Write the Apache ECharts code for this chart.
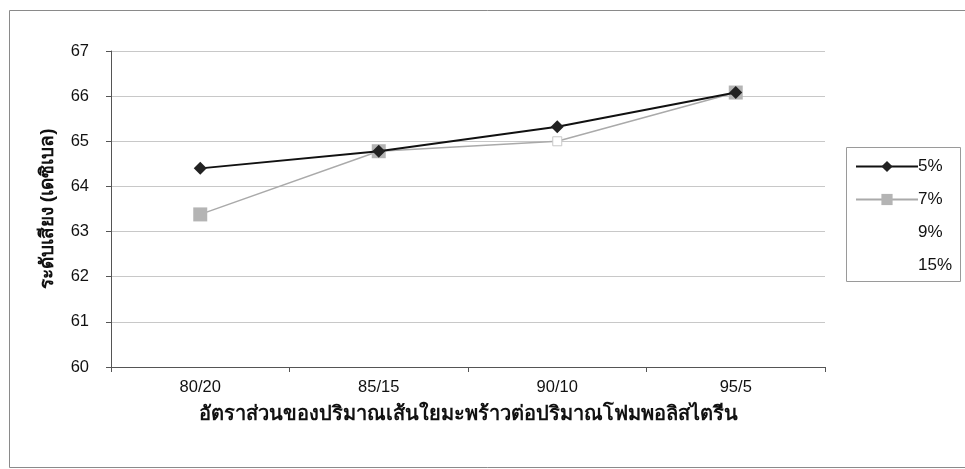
<!DOCTYPE html>
<html>
<head>
<meta charset="utf-8">
<script src="https://cdn.jsdelivr.net/npm/echarts@6/dist/echarts.min.js"></script>
<style>
  html, body { margin: 0; padding: 0; background: #fff; }
  #chart { width: 965px; height: 469px; }
</style>
</head>
<body>
<div id="chart"></div>
<script>
// Fibre / foam mixing ratios on the x axis
const categories = ['80/20', '85/15', '90/10', '95/5'];
// Sound level (dB) for each additive percentage
const series5 = [64.4, 64.78, 65.32, 66.08];
const series7 = [63.38, 64.78, 65.0, 66.08];
const series9 = [];
const series15 = [];
const seriesNames = ['5%', '7%', '9%', '15%'];

const yTitle = 'ระดับเสียง (เดซิเบล)';
const xTitle = 'อัตราส่วนของปริมาณเส้นใยมะพร้าวต่อปริมาณโฟมพอลิสไตรีน';

const FONT = "'Liberation Sans', Arial, 'Noto Sans', sans-serif";

const chart = echarts.init(document.getElementById('chart'), null, { renderer: 'canvas' });

chart.setOption({
  animation: false,
  backgroundColor: '#fff',
  textStyle: { fontFamily: FONT },
  graphic: [
    {
      type: 'rect',
      shape: { x: 9.5, y: 10.5, width: 970, height: 457 },
      style: { fill: 'none', stroke: '#8a8a8a', lineWidth: 1 },
      silent: true
    },
    {
      type: 'rect',
      shape: { x: 846.5, y: 147.5, width: 114, height: 134 },
      style: { fill: 'none', stroke: '#9a9a9a', lineWidth: 1 },
      silent: true
    }
  ],
  grid: { left: 111, top: 51, width: 714, height: 316, containLabel: false },
  legend: {
    orient: 'vertical',
    left: 850,
    top: 153,
    itemWidth: 62,
    itemHeight: 14,
    itemGap: 16,
    selectedMode: false,
    textStyle: { fontSize: 17, color: '#111', fontFamily: FONT, padding: [0, 0, 0, -5] },
    data: seriesNames
  },
  xAxis: {
    type: 'category',
    data: categories,
    boundaryGap: true,
    name: xTitle,
    nameLocation: 'middle',
    nameGap: 37,
    nameTextStyle: { fontSize: 20, fontWeight: 'bold', color: '#111', fontFamily: FONT },
    axisLine: { lineStyle: { color: '#555', width: 1 } },
    axisTick: { show: true, alignWithLabel: false, length: 5, lineStyle: { color: '#555' } },
    axisLabel: { fontSize: 16.5, color: '#111', margin: 12 },
    splitLine: { show: false }
  },
  yAxis: {
    type: 'value',
    min: 60,
    max: 67,
    interval: 1,
    name: yTitle,
    nameLocation: 'middle',
    nameGap: 54,
    nameRotate: 90,
    nameTextStyle: { fontSize: 19, fontWeight: 'bold', color: '#111', fontFamily: FONT },
    axisLine: { show: true, lineStyle: { color: '#555', width: 1 } },
    axisTick: { show: true, length: 5, lineStyle: { color: '#555' } },
    axisLabel: { fontSize: 16.5, color: '#111', margin: 22 },
    splitLine: { show: true, lineStyle: { color: '#c8c8c8', width: 1 } }
  },
  series: [
    {
      name: '5%',
      type: 'line',
      data: series5,
      symbol: 'diamond',
      symbolSize: 13,
      lineStyle: { color: '#111', width: 2 },
      itemStyle: { color: '#222' },
      z: 3
    },
    {
      name: '7%',
      type: 'line',
      data: series7.map((v, i) => i === 2
        ? { value: v, symbolSize: 9, itemStyle: { color: '#ffffff', borderColor: '#c8c8c8', borderWidth: 1 } }
        : v),
      symbol: 'rect',
      symbolSize: 14,
      lineStyle: { color: '#aaa', width: 1.5 },
      itemStyle: { color: '#b4b4b4' },
      z: 2
    },
    {
      name: '9%',
      type: 'line',
      data: series9,
      symbol: 'none',
      lineStyle: { color: 'rgba(255,255,255,0)' },
      itemStyle: { color: 'rgba(255,255,255,0)' }
    },
    {
      name: '15%',
      type: 'line',
      data: series15,
      symbol: 'none',
      lineStyle: { color: 'rgba(255,255,255,0)' },
      itemStyle: { color: 'rgba(255,255,255,0)' }
    }
  ]
});
</script>
</body>
</html>
